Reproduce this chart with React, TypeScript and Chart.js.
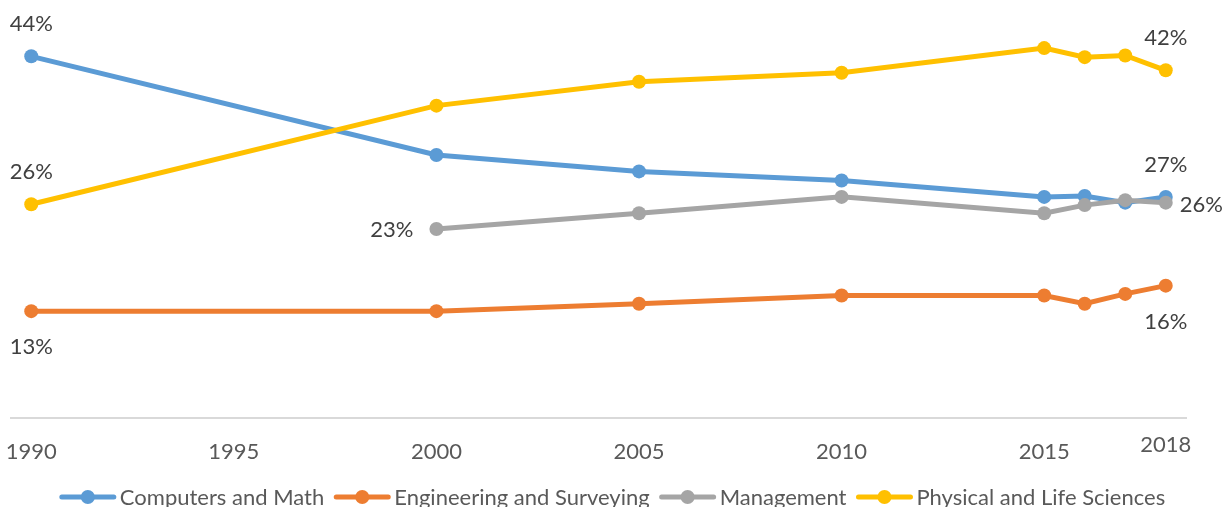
import React, { useEffect, useRef } from "react";
import { Chart, registerables } from "chart.js";

Chart.register(...registerables);

const years = [1990, 2000, 2005, 2010, 2015, 2016, 2017, 2018];
const computersMath = [44, 32, 30, 28.9, 26.9, 27, 26.2, 26.9];
const engineering = [13, 13, 13.9, 14.9, 14.9, 13.9, 15.1, 16.1];
const management: (number | null)[] = [null, 23, 24.9, 26.9, 24.9, 25.9, 26.5, 26.2];
const physicalLife = [26, 38, 40.9, 42, 45, 43.9, 44.1, 42.3];

const seriesNames = [
  "Computers and Math",
  "Engineering and Surveying",
  "Management",
  "Physical and Life Sciences",
];
const seriesColors = ["#5B9BD5", "#ED7D31", "#A5A5A5", "#FFC000"];
const xTickValues = [1990, 1995, 2000, 2005, 2010, 2015, 2018];

// which points carry a value label and where
const labelSeries = [0, 3, 1, 2, 3, 0, 2, 1];
const labelYears = [1990, 1990, 1990, 2000, 2018, 2018, 2018, 2018];
const labelSides = ["above", "above", "below", "left", "above", "above", "right", "below"];

const FONT = "Lato, 'Open Sans', sans-serif";
const FONT_SIZE = 22;

const extrasPlugin = {
  id: "extras",
  afterDatasetsDraw(chart: any) {
    const ctx = chart.ctx;
    ctx.save();
    ctx.font = `${FONT_SIZE}px ${FONT}`;
    ctx.fillStyle = "#404040";
    labelSeries.forEach((s, k) => {
      const meta = chart.getDatasetMeta(s);
      const ds = chart.data.datasets[s];
      const idx = ds.data.findIndex((p: any) => p.x === labelYears[k]);
      if (idx < 0) return;
      const el = meta.data[idx];
      const txt = Math.round(ds.data[idx].y) + "%";
      const side = labelSides[k];
      ctx.textBaseline = "middle";
      if (side === "above") {
        ctx.textAlign = "center";
        ctx.fillText(txt, el.x, el.y - 32);
      } else if (side === "below") {
        ctx.textAlign = "center";
        ctx.fillText(txt, el.x, el.y + 36);
      } else if (side === "left") {
        ctx.textAlign = "right";
        ctx.fillText(txt, el.x - 23, el.y + 1);
      } else {
        ctx.textAlign = "left";
        ctx.fillText(txt, el.x + 14, el.y + 2);
      }
    });
    ctx.restore();
  },
  afterDraw(chart: any) {
    const ctx = chart.ctx;
    ctx.save();
    ctx.font = `${FONT_SIZE}px ${FONT}`;
    const xs = chart.scales.x;
    const last = xTickValues[xTickValues.length - 1];
    ctx.fillStyle = "#595959";
    ctx.textAlign = "center";
    ctx.textBaseline = "middle";
    ctx.fillText(String(last), xs.getPixelForValue(last), 445);

    // legend
    const markerW = 56;
    const gapText = 4;
    const gapItem = 10;
    const widths = seriesNames.map((n) => ctx.measureText(n).width);
    const total = widths.reduce((a, w) => a + markerW + gapText + w, 0) + gapItem * (seriesNames.length - 1);
    let x = (chart.width - total) / 2;
    const y = 497;
    seriesNames.forEach((name, i) => {
      ctx.strokeStyle = seriesColors[i];
      ctx.lineWidth = 5;
      ctx.lineCap = "round";
      ctx.beginPath();
      ctx.moveTo(x + 2, y);
      ctx.lineTo(x + markerW - 2, y);
      ctx.stroke();
      ctx.fillStyle = seriesColors[i];
      ctx.beginPath();
      ctx.arc(x + markerW / 2, y, 7, 0, Math.PI * 2);
      ctx.fill();
      ctx.fillStyle = "#595959";
      ctx.textAlign = "left";
      ctx.textBaseline = "middle";
      ctx.fillText(name, x + markerW + gapText, y + 1);
      x += markerW + gapText + widths[i] + gapItem;
    });
    ctx.restore();
  },
};

export default function App() {
  const canvasRef = useRef<HTMLCanvasElement | null>(null);

  useEffect(() => {
    const canvas = canvasRef.current;
    if (!canvas) return;
    const allSeries = [computersMath, engineering, management, physicalLife];
    const orders = [4, 3, 2, 1];
    const chart = new Chart(canvas, {
      type: "line",
      data: {
        datasets: allSeries.map((vals, i) => ({
          label: seriesNames[i],
          data: years
            .map((yr, j) => ({ x: yr, y: vals[j] as number }))
            .filter((p) => p.y !== null && p.y !== undefined),
          borderColor: seriesColors[i],
          backgroundColor: seriesColors[i],
          pointBackgroundColor: seriesColors[i],
          pointBorderColor: seriesColors[i],
          pointBorderWidth: 0,
          pointRadius: 7,
          borderWidth: 5,
          tension: 0,
          fill: false,
          order: orders[i],
        })),
      },
      options: {
        responsive: false,
        animation: false,
        events: [],
        layout: { padding: { left: 11, right: 39, top: 5, bottom: 0 } },
        plugins: {
          legend: { display: false },
          tooltip: { enabled: false },
        },
        scales: {
          x: {
            type: "linear",
            min: 1989.5,
            max: 2018.5,
            afterBuildTicks: (s: any) => {
              s.ticks = xTickValues.map((v) => ({ value: v }));
            },
            afterFit: (s: any) => {
              s.height = 89;
              s.paddingLeft = 0;
              s.paddingRight = 0;
            },
            grid: { display: false, drawTicks: false },
            border: { display: true, color: "#D9D9D9", width: 2 },
            ticks: {
              autoSkip: false,
              maxRotation: 0,
              padding: 21,
              color: "#595959",
              font: { family: FONT, size: FONT_SIZE },
              callback: (v: any) => (v === xTickValues[xTickValues.length - 1] ? "" : String(v)),
            },
          },
          y: { display: false, min: 0, max: 50 },
        },
      },
      plugins: [extrasPlugin],
    });
    return () => chart.destroy();
  }, []);

  return (
    <div style={{ position: "fixed", left: 0, top: 0, width: 1225, height: 507, background: "#fff" }}>
      <canvas ref={canvasRef} width={1225} height={507} style={{ display: "block" }} />
    </div>
  );
}
